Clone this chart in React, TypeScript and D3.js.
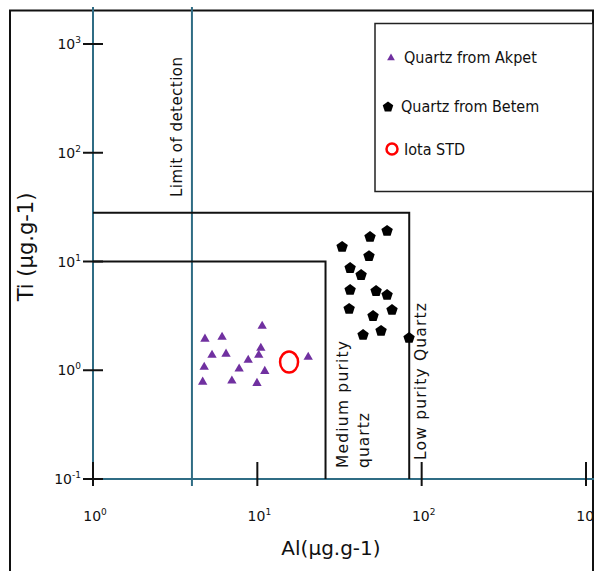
import * as d3 from "d3";

// Ti vs Al discrimination plot (log-log)
const akpetAl = [4.8, 6.1, 10.7, 5.3, 6.45, 10.5, 10.2, 8.8, 4.75, 7.75, 11.1, 4.65, 7.0, 9.95, 20.4];
const akpetTi = [1.94, 2.02, 2.55, 1.38, 1.41, 1.6, 1.38, 1.24, 1.07, 1.03, 0.98, 0.78, 0.8, 0.76, 1.32];

const betemAl = [61.6, 48.5, 32.8, 47.8, 36.7, 42.8, 36.7, 52.8, 61.6, 36.2, 66.0, 50.6, 44.0, 56.6, 83.8];
const betemTi = [19.1, 16.8, 13.6, 11.2, 8.71, 7.51, 5.47, 5.35, 4.92, 3.66, 3.58, 3.15, 2.11, 2.3, 1.98];

const iotaAl = [15.6];
const iotaTi = [1.19];

const tickExponents = [-1, 0, 1, 2, 3];
const xTickExponents = [0, 1, 2, 3];

const detectionLimitAl = 4;
const mediumLimit = { al: 26, ti: 10 };
const lowLimit = { al: 84, ti: 28 };

const legendItems = ["Quartz from Akpet", "Quartz from Betem", "Iota STD"];

const W = 594;
const H = 571;
const TEAL = "#2f6c84";
const PURPLE = "#7030a0";

const x = d3.scaleLog().domain([1, 1000]).range([93, 586]);
const y = d3.scaleLog().domain([0.1, 1000]).range([479, 44]);

const triangle = d3.symbol(d3.symbolTriangle, 38)();
const triangleSmall = d3.symbol(d3.symbolTriangle, 26)();

function pentagon(r: number) {
  const pts: [number, number][] = d3.range(5).map((i) => {
    const a = -Math.PI / 2 + (i * 2 * Math.PI) / 5;
    return [r * Math.cos(a), r * Math.sin(a)];
  });
  return d3.line().curve(d3.curveLinearClosed)(pts) as string;
}

const tickFont = "'DejaVu Sans', sans-serif";
const labelFont = "'DejaVu Sans', sans-serif";
const legendFont = "'DejaVu Sans Condensed', 'DejaVu Sans', sans-serif";

export default function App() {
  const yBase = y(0.1);
  const xBase = x(1);
  return (
    <svg
      width={W}
      height={H}
      style={{ position: "absolute", left: 0, top: 0, background: "#fff" }}
    >
      {/* outer frame */}
      <path d={`M10,${H + 5} V10.5 H593 V${H + 5}`} fill="none" stroke="#111" strokeWidth={2} />

      {/* teal axes */}
      <line x1={xBase} x2={W} y1={yBase} y2={yBase} stroke={TEAL} strokeWidth={2} />
      <line x1={xBase} x2={xBase} y1={7} y2={486} stroke={TEAL} strokeWidth={2} />
      <line
        x1={x(detectionLimitAl)}
        x2={x(detectionLimitAl)}
        y1={7}
        y2={486}
        stroke={TEAL}
        strokeWidth={2}
      />

      {/* y ticks */}
      {tickExponents.map((e) => (
        <g key={"y" + e}>
          <line x1={83} x2={103} y1={y(10 ** e)} y2={y(10 ** e)} stroke="#111" strokeWidth={2} />
          <text
            x={81}
            y={y(10 ** e) + 5}
            textAnchor="end"
            fontFamily={tickFont}
            fontSize={14}
            fill="#111"
          >
            10
            <tspan dy={-6} fontSize={9}>
              {e}
            </tspan>
          </text>
        </g>
      ))}

      {/* x ticks */}
      {xTickExponents.map((e) => (
        <g key={"x" + e}>
          <line x1={x(10 ** e)} x2={x(10 ** e)} y1={462} y2={486} stroke="#111" strokeWidth={2} />
          <text
            x={x(10 ** e) + 2}
            y={521}
            textAnchor="middle"
            fontFamily={tickFont}
            fontSize={14}
            fill="#111"
          >
            10
            <tspan dy={-6} fontSize={9}>
              {e}
            </tspan>
          </text>
        </g>
      ))}

      {/* purity fields */}
      <path
        d={`M${xBase},${y(lowLimit.ti)} H${x(lowLimit.al)} V${yBase}`}
        fill="none"
        stroke="#111"
        strokeWidth={2}
      />
      <path
        d={`M${xBase},${y(mediumLimit.ti)} H${x(mediumLimit.al)} V${yBase}`}
        fill="none"
        stroke="#111"
        strokeWidth={2}
      />

      {/* rotated labels */}
      <text
        transform={`translate(177,197) rotate(-90)`}
        dominantBaseline="central"
        fontFamily={labelFont}
        fontSize={15}
        textLength={140}
        lengthAdjust="spacing"
        fill="#111"
      >
        Limit of detection
      </text>
      <text
        transform={`translate(343,468) rotate(-90)`}
        dominantBaseline="central"
        fontFamily={labelFont}
        fontSize={15.5}
        textLength={127}
        lengthAdjust="spacing"
        fill="#111"
      >
        Medium purity
      </text>
      <text
        transform={`translate(364,468) rotate(-90)`}
        dominantBaseline="central"
        fontFamily={labelFont}
        fontSize={15.5}
        textLength={55}
        lengthAdjust="spacing"
        fill="#111"
      >
        quartz
      </text>
      <text
        transform={`translate(421,460) rotate(-90)`}
        dominantBaseline="central"
        fontFamily={labelFont}
        fontSize={15.5}
        textLength={157}
        lengthAdjust="spacing"
        fill="#111"
      >
        Low purity Quartz
      </text>

      {/* axis titles */}
      <text
        transform={`translate(26,247) rotate(-90)`}
        textAnchor="middle"
        dominantBaseline="central"
        fontFamily={labelFont}
        fontSize={21}
        fill="#111"
      >
        Ti (µg.g-1)
      </text>
      <text x={331} y={555} textAnchor="middle" fontFamily={labelFont} fontSize={20} fill="#111">
        Al(µg.g-1)
      </text>

      {/* data */}
      {akpetAl.map((a, i) => (
        <path
          key={"a" + i}
          d={triangle}
          transform={`translate(${x(a)},${y(akpetTi[i])})`}
          fill={PURPLE}
        />
      ))}
      {betemAl.map((a, i) => (
        <path
          key={"b" + i}
          d={pentagon(6)}
          transform={`translate(${x(a)},${y(betemTi[i])})`}
          fill="#000"
        />
      ))}
      {iotaAl.map((a, i) => (
        <ellipse
          key={"c" + i}
          cx={x(a)}
          cy={y(iotaTi[i])}
          rx={9}
          ry={10.5}
          fill="none"
          stroke="#ff0000"
          strokeWidth={2.5}
        />
      ))}

      {/* legend */}
      <rect x={375} y={23.5} width={218} height={168} fill="#fff" stroke="#222" strokeWidth={1.5} />
      <path d={triangleSmall} transform="translate(391,58)" fill={PURPLE} />
      <path d={pentagon(5.5)} transform="translate(388,107)" fill="#000" />
      <circle cx={392} cy={149} r={5.5} fill="none" stroke="#ff0000" strokeWidth={2.5} />
      {legendItems.map((t, i) => (
        <text
          key={t}
          x={i === 1 ? 401 : 404}
          y={[63, 112, 155][i]}
          fontFamily={legendFont}
          fontStretch="condensed"
          fontSize={16}
          fill="#111"
        >
          {t}
        </text>
      ))}
    </svg>
  );
}
